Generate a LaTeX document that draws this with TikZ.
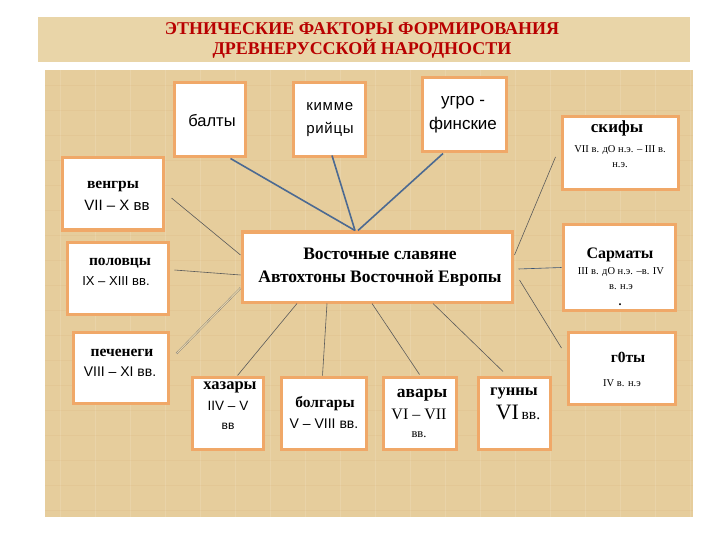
\documentclass[tikz,border=0pt]{standalone}
\usepackage{fontspec}
\setmainfont{Liberation Serif}
\newfontfamily\sansf{Liberation Sans}
\usetikzlibrary{calc}
\definecolor{parch}{HTML}{E6CD9C}
\definecolor{parchlt}{HTML}{E9D5A8}
\definecolor{boxedge}{HTML}{F0A868}
\definecolor{titred}{HTML}{B80000}
\definecolor{blueline}{HTML}{4C6A92}
\definecolor{thinline}{HTML}{5A5A5A}
\tikzset{
  fbox/.style={draw=boxedge, line width=3pt, fill=white, minimum width=#1, inner sep=0pt},
  sertxt/.style={font=\fontsize{15.5}{16}\selectfont\bfseries, inner sep=0pt},
  sanstxt/.style={font=\sansf\fontsize{14}{15}\selectfont, inner sep=0pt},
  smalltxt/.style={font=\fontsize{10.5}{15}\selectfont, inner sep=0pt},
  thick conn/.style={draw=blueline, line width=1.6pt},
  thin conn/.style={draw=thinline, line width=0.6pt},
}
\begin{document}
\begin{tikzpicture}[x=1pt,y=-1pt]
\useasboundingbox (0,0) rectangle (720,540);
\fill[white] (0,0) rectangle (720,540);
% title banner and panel
\fill[parchlt] (38,17) rectangle (690,62);
\fill[parch] (45,70) rectangle (693,517);
\foreach \x in {60,95,...,690} {\draw[white,opacity=0.12,line width=0.8pt] (\x,70) -- (\x,517);}
\foreach \y in {85,110,...,517} {\draw[brown,opacity=0.07,line width=0.8pt] (45,\y) -- (693,\y);}
\node[font=\fontsize{18}{20}\selectfont\bfseries, text=titred, align=center] (title) at (362,40)
  {ЭТНИЧЕСКИЕ ФАКТОРЫ ФОРМИРОВАНИЯ\\ДРЕВНЕРУССКОЙ НАРОДНОСТИ};

% boxes
\node[fbox=71pt, minimum height=74pt] (balty) at (209.5,120) {};
\node[fbox=72pt, minimum height=74pt] (kimme) at (329,120) {};
\node[fbox=84pt, minimum height=74pt] (ugro) at (464,115) {};
\node[fbox=116pt, minimum height=73pt] (skify) at (620,153.5) {};
\node[fbox=101pt, minimum height=72pt] (vengry) at (112.5,194) {};
\node[fbox=270pt, minimum height=70pt] (center) at (377,267) {};
\node[fbox=101pt, minimum height=72pt] (polovtsy) at (117.5,278) {};
\node[fbox=112pt, minimum height=85pt] (sarmaty) at (619,267.5) {};
\node[fbox=95pt, minimum height=71pt] (pechenegi) at (120.5,367.5) {};
\node[fbox=107pt, minimum height=72pt] (goty) at (621.5,368) {};
\node[fbox=71pt, minimum height=72pt] (hazary) at (227.5,413) {};
\node[fbox=85pt, minimum height=72pt] (bolgary) at (323.5,413) {};
\node[fbox=73pt, minimum height=72pt] (avary) at (419.5,413) {};
\node[fbox=72pt, minimum height=72pt] (gunny) at (514,413) {};

% texts
\node[sanstxt, font=\sansf\fontsize{16.5}{17}\selectfont] (t-balty) at (212,121) {балты};
\node[sanstxt, font=\sansf\fontsize{15}{23}\selectfont, align=left] (t-kimme) at (330,120) {\addfontfeature{LetterSpace=5}кимме\\\addfontfeature{LetterSpace=5}рийцы};
\node[sanstxt, font=\sansf\fontsize{17}{24}\selectfont, align=center] (t-ugro) at (463,115) {угро -\\финские};
\node[font=\fontsize{17}{18}\selectfont\bfseries, inner sep=0pt] (t-skify) at (617,128) {скифы};
\node[smalltxt, align=center] (t-skify2) at (620,157) {VII в. дО н.э. – III в.\\н.э.};
\node[sertxt] (t-vengry) at (113,186) {венгры};
\node[sanstxt, font=\sansf\fontsize{15}{16}\selectfont] (t-vengry2) at (117,205) {VII – X вв};
\node[sertxt] (t-polovtsy) at (120,263) {половцы};
\node[sanstxt, font=\sansf\fontsize{13}{14}\selectfont] (t-polovtsy2) at (116,281) {IX – XIII вв.};
\node[sertxt] (t-pechenegi) at (122,353) {печенеги};
\node[sanstxt, font=\sansf\fontsize{14}{15}\selectfont] (t-pechenegi2) at (120,372) {VIII – XI вв.};
\node[font=\fontsize{17.5}{23}\selectfont\bfseries, align=center, inner sep=0pt] (t-center) at (380,267)
  {Восточные славяне\\Автохтоны Восточной Европы};
\node[font=\fontsize{16}{17}\selectfont\bfseries, inner sep=0pt] (t-sarm) at (620,255) {Сарматы};
\node[smalltxt, align=center] (t-sarm2) at (621,279) {III в. дО н.э. –в. IV\\в. н.э};
\node[font=\bfseries\fontsize{12}{12}\selectfont, inner sep=0pt] (t-dot) at (620,305) {.};
\node[font=\fontsize{15.5}{16}\selectfont\bfseries, inner sep=0pt] (t-goty) at (628,357) {г0ты};
\node[smalltxt] (t-goty2) at (622,383) {IV в. н.э};
\node[sertxt, font=\fontsize{16.5}{17}\selectfont\bfseries] (t-hazary) at (230,387) {хазары};
\node[sanstxt, font=\sansf\fontsize{13.5}{14}\selectfont] (t-hazary2) at (228,406) {IIV – V};
\node[sanstxt, font=\sansf\fontsize{12}{13}\selectfont] (t-hazary3) at (228,426) {вв};
\node[sertxt] (t-bolgary) at (325,404) {болгары};
\node[sanstxt, font=\sansf\fontsize{14}{15}\selectfont] (t-bolgary2) at (324,424) {V – VIII вв.};
\node[font=\fontsize{17.5}{18}\selectfont\bfseries, inner sep=0pt] (t-avary) at (422,395) {авары};
\node[font=\fontsize{16}{17}\selectfont, inner sep=0pt] (t-avary2) at (419,414) {VI – VII};
\node[font=\fontsize{12.5}{13}\selectfont, inner sep=0pt] (t-avary3) at (419,435) {вв.};
\node[font=\fontsize{16.5}{17}\selectfont\bfseries, inner sep=0pt] (t-gunny) at (514,393) {гунны};
\node[inner sep=0pt] (t-gunny2) at (518,412) {\fontsize{22}{22}\selectfont VI\fontsize{15.5}{16}\selectfont\,вв.};

% connectors
\coordinate (hub) at ($(center.north)+(-22,0)$);
\draw[thick conn] ($(balty.south)+(21,0)$) -- (hub);
\draw[thick conn] ($(kimme.south)+(3,-3)$) -- (hub);
\draw[thick conn] ($(ugro.south)+(-21,0)$) -- ($(hub)+(3,0)$);
\draw[thin conn] ($(vengry.east)+(7,4)$) -- ($(center.west)+(0,-12)$);
\draw[thin conn] ($(polovtsy.east)+(5,-8)$) -- ($(center.west)+(0,8)$);
\draw[draw=thinline!80, line width=0.4pt, double=parchlt, double distance=1pt] ($(pechenegi.east)+(7,-14)$) -- ($(center.west)+(0,21)$);
\draw[thin conn] ($(center.south)+(-80,0)$) -- ($(hazary.north)+(10,0)$);
\draw[thin conn] ($(center.south)+(-50,0)$) -- ($(bolgary.north)+(-1,0)$);
\draw[thin conn] ($(center.south)+(-5,0)$) -- ($(avary.north)+(0,-1)$);
\draw[thin conn] ($(center.south)+(56,0)$) -- ($(gunny.north)+(-11,-4)$);
\draw[thin conn] ($(center.east)+(6,13)$) -- ($(goty.west)+(-5,-20)$);
\draw[thin conn, draw=blueline!80!black] ($(center.east)+(5,2)$) -- (sarmaty.west);
\draw[thin conn] ($(center.east)+(1,-12)$) -- ($(skify.west)+(-5,3.5)$);
\end{tikzpicture}
\end{document}
